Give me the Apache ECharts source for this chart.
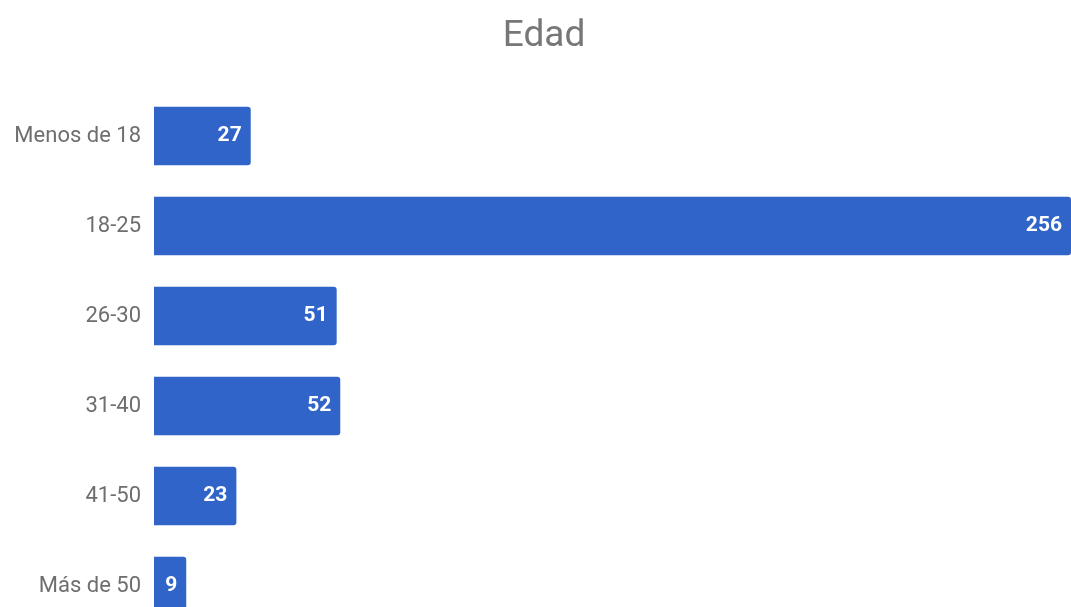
<!DOCTYPE html>
<html>
<head>
<meta charset="utf-8">
<script src="https://cdn.jsdelivr.net/npm/echarts@6/dist/echarts.min.js"></script>
<style>html,body{margin:0;padding:0;background:#fff;}#c{width:1071px;height:607px;}</style>
</head>
<body>
<div id="c"></div>
<script>
const categories = ["Menos de 18", "18-25", "26-30", "31-40", "41-50", "Más de 50"];
const values = [27, 256, 51, 52, 23, 9];
const titleText = "Edad";

const chart = echarts.init(document.getElementById('c'), null, {renderer: 'canvas'});
chart.setOption({
  animation: false,
  backgroundColor: '#ffffff',
  title: {
    text: titleText,
    left: 539, top: 13, textAlign: 'center',
    textStyle: {fontFamily: 'Roboto', fontSize: 37, fontWeight: 'normal', color: '#777777'}
  },
  grid: {left: 154, right: 0, top: 91, height: 540, containLabel: false, outerBoundsMode: 'none'},
  xAxis: {
    type: 'value', min: 0, max: 256,
    show: false
  },
  yAxis: {
    type: 'category', data: categories, inverse: true,
    axisLine: {show: false}, axisTick: {show: false},
    axisLabel: {fontFamily: 'Roboto', fontSize: 22, color: '#6e6e6e', margin: 13}
  },
  series: [{
    type: 'bar', data: values, barWidth: '65%',
    itemStyle: {color: '#3064c8', borderRadius: [0, 3, 3, 0]},
    label: {show: true, position: 'insideRight', distance: 9,
      fontFamily: 'Roboto', fontSize: 21, fontWeight: 'bold', color: '#ffffff'}
  }]
});
</script>
</body>
</html>
